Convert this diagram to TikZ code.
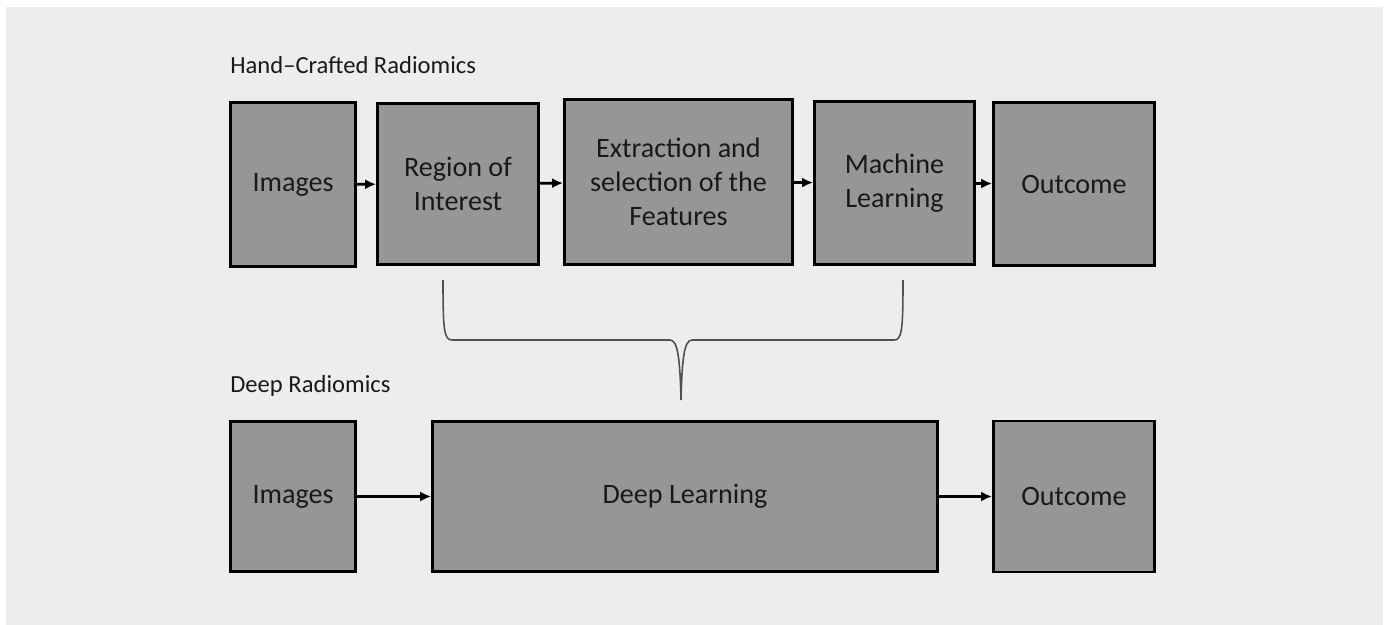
\documentclass[tikz,border=0pt]{standalone}
\usepackage{fontspec}
\setmainfont{Carlito}
\usepackage{tikz}
\usetikzlibrary{arrows.meta, positioning}

\definecolor{panelgray}{HTML}{EBECEC}
\definecolor{innergray}{HTML}{EDEDED}
\definecolor{boxgray}{HTML}{969696}
\definecolor{bracegray}{HTML}{505050}

\begin{document}
\begin{tikzpicture}[x=0.02cm, y=-0.02cm,
    block/.style={draw, line width=1.6pt, fill=boxgray, align=center, font=\fontsize{16}{19.5}\selectfont, text=black!90},
    arrow/.style={-{Latex[length=2.2mm, width=2mm]}, line width=1.6pt},
    title/.style={anchor=base west, inner sep=0pt, font=\fontsize{14}{17}\selectfont, text=black!90}
]
    % Background
    \useasboundingbox (0,0) rectangle (1387,625);
    \fill[white] (0,0) rectangle (1387,625);
    \fill[panelgray] (6,7) rectangle (1383,625);
    \fill[innergray] (205,52) rectangle (1173,580);

    % Hand-crafted radiomics
    \node[title] (hctitle) at (230,74) {Hand--Crafted Radiomics};

    \node[block, minimum width=2.5cm, minimum height=3.28cm] (imga) at (293,184.5) {Images};
    \node[block, minimum width=3.22cm, minimum height=3.22cm] (roi) at (458,184) {Region of\\Interest};
    \node[block, minimum width=4.56cm, minimum height=3.3cm] (feat) at (678.5,182) {Extraction and\\selection of the\\Features};
    \node[block, minimum width=3.2cm, minimum height=3.26cm] (ml) at (894.5,183) {Machine\\Learning};
    \node[block, minimum width=3.22cm, minimum height=3.26cm] (outa) at (1074,184) {Outcome};

    \draw[arrow] (imga) -- (roi);
    \draw[arrow] (roi) -- (feat);
    \draw[arrow] (feat) -- (ml);
    \draw[arrow] (ml) -- (outa);

    % Brace
    \coordinate (bl) at (443,280);
    \coordinate (br) at (903,280);
    \coordinate (btip) at (681,400);
    \draw[bracegray, line width=0.9pt] (bl) .. controls (443,330) and (444,340) .. (452,340) -- (670,340)
        .. controls (678,340) and (680,360) .. (btip)
        .. controls (682,360) and (684,340) .. (692,340) -- (894,340)
        .. controls (902,340) and (903,330) .. (br);

    % Deep radiomics
    \node[title] (drtitle) at (230,392) {Deep Radiomics};

    \node[block, minimum width=2.5cm, minimum height=3cm] (imgb) at (293,496.5) {Images};
    \node[block, minimum width=10.1cm, minimum height=3cm] (dl) at (685,496.5) {Deep Learning};
    \node[block, minimum width=3.22cm, minimum height=3.02cm] (outb) at (1074,496.5) {Outcome};

    \draw[arrow] (imgb) -- (dl);
    \draw[arrow] (dl) -- (outb);
\end{tikzpicture}
\end{document}
